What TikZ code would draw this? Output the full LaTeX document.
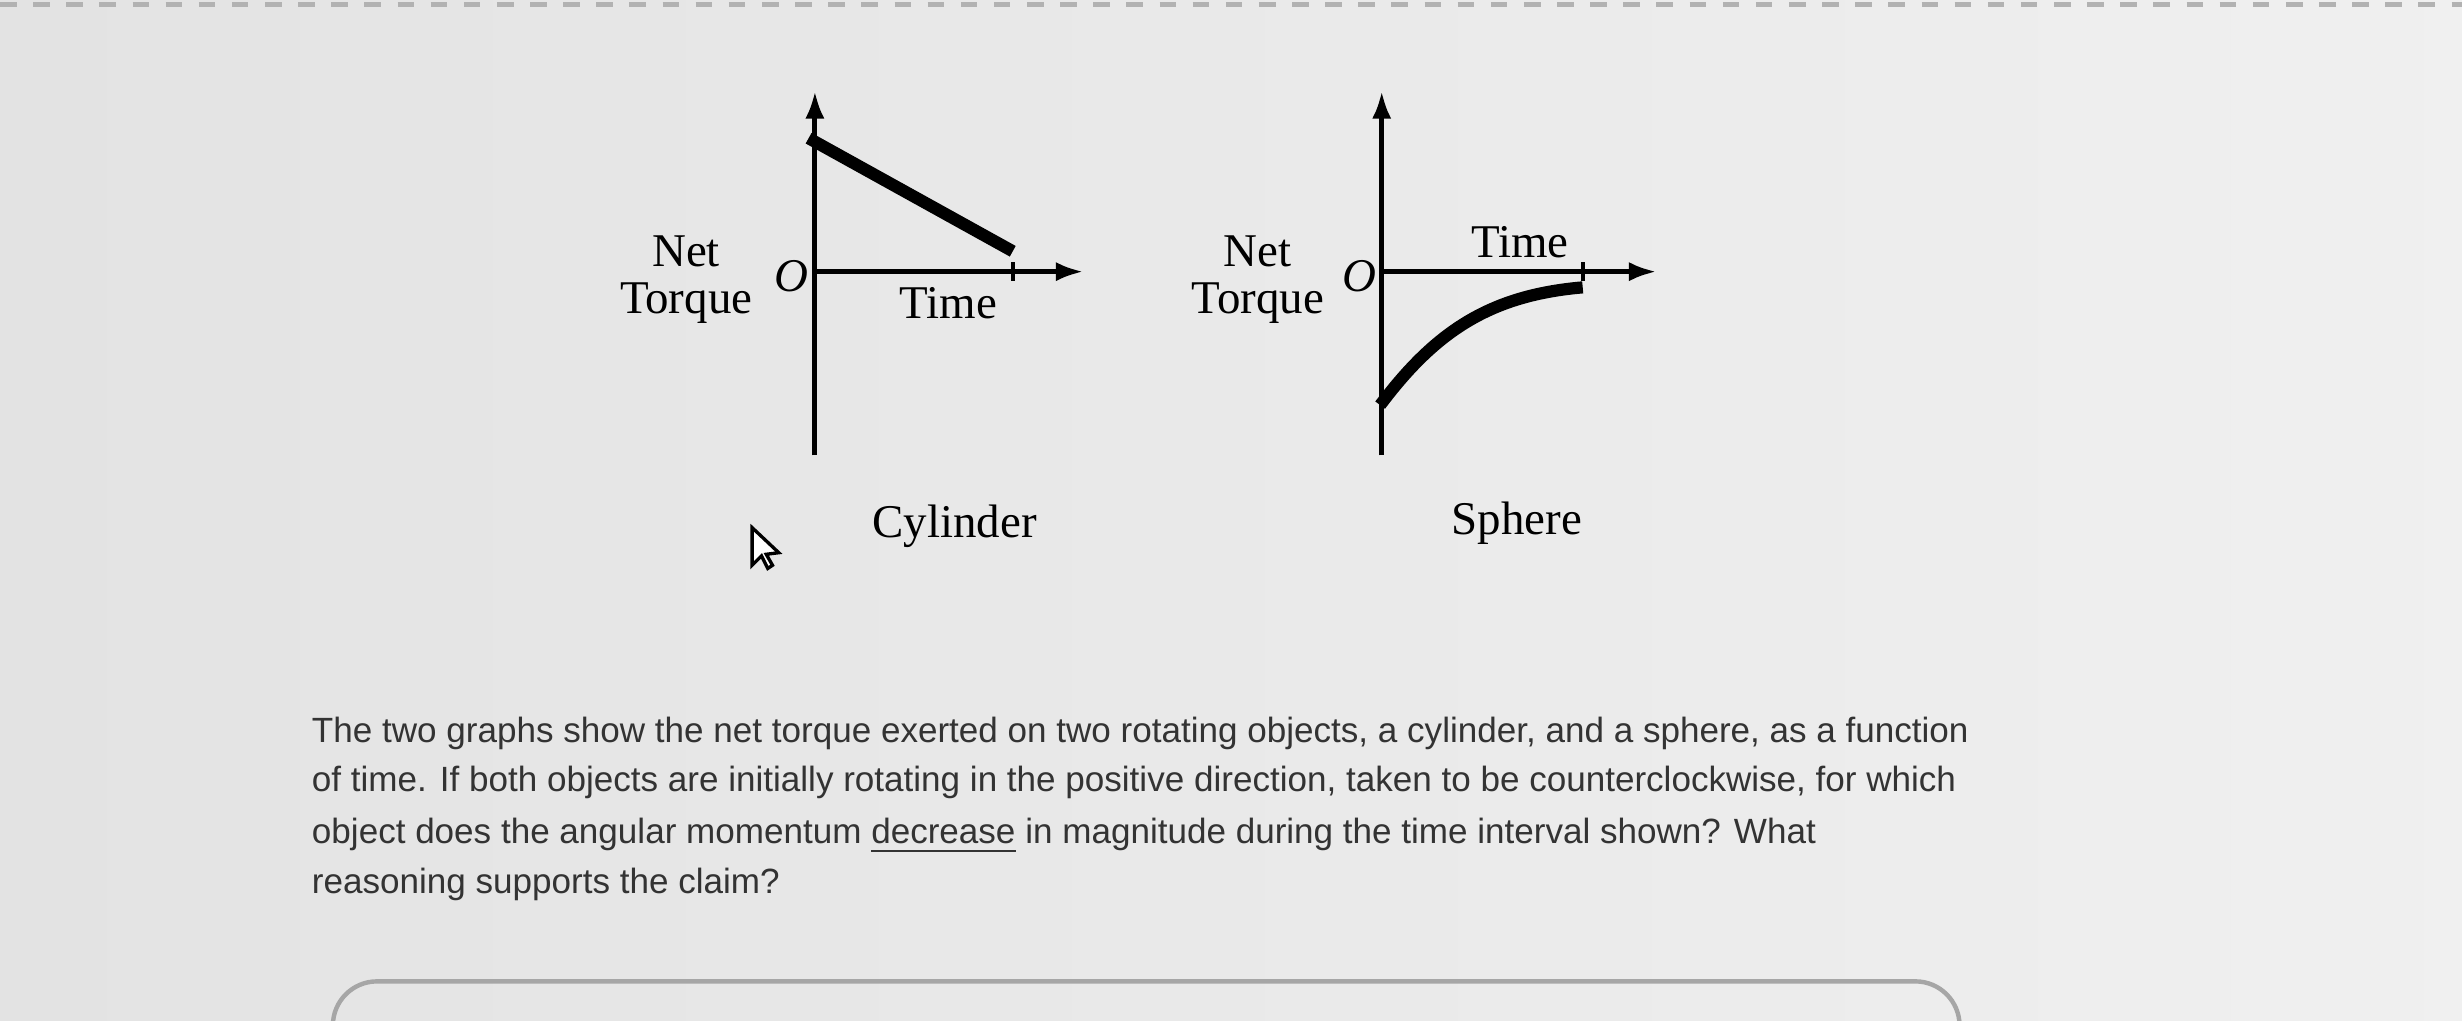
\documentclass[tikz,border=0pt]{standalone}
\usepackage{fontspec}
\setmainfont{Liberation Serif}
\newfontfamily\txtfont{Liberation Sans}
\usetikzlibrary{arrows.meta}
\begin{document}
\begin{tikzpicture}[x=0.01cm,y=-0.01cm,
 ax/.style={line width=0.9pt,-{Latex[length=5pt,width=3.5pt]}},
 crv/.style={line width=2.2pt},
 lab/.style={font=\fontsize{8.5}{9}\selectfont,inner sep=0pt},
 para/.style={font=\txtfont\fontsize{6.35}{8}\selectfont,color=black!80,inner sep=0pt,anchor=base west}]
\fill[left color=gray!22,right color=gray!12] (0,0) rectangle (1568,650);
\useasboundingbox (0,0) rectangle (1568,650);
\draw[dashed,gray!60,line width=1pt] (0,3) -- (1568,3);
% graph 1
\coordinate (a1b) at (519,290); \coordinate (a1t) at (519,58);
\coordinate (h1l) at (519,173); \coordinate (h1r) at (690,173);
\draw[ax] (a1b) -- (a1t);
\draw[ax] (h1l) -- (h1r);
\draw[line width=0.7pt] (645,167) -- (645,179);
\coordinate (c1s) at (515,88); \coordinate (c1e) at (645,160);
\draw[crv] (c1s) -- (c1e);
\node[lab] (n1) at (437,160) {Net};
\node[lab] (t1) at (437,193) {Torque};
\node[lab] (o1) at (504,176) {\itshape O};
\node[lab] (ti1) at (604,193) {Time};
\node[lab] (cy) at (608,335) {Cylinder};
% graph 2
\coordinate (a2b) at (880,290); \coordinate (a2t) at (880,58);
\coordinate (h2l) at (880,173); \coordinate (h2r) at (1055,173);
\draw[ax] (a2b) -- (a2t);
\draw[ax] (h2l) -- (h2r);
\draw[line width=0.7pt] (1008,167) -- (1008,179);
\coordinate (c2s) at (879,258); \coordinate (c2e) at (1008,183);
\draw[crv] (c2s) .. controls (915,210) and (950,188) .. (c2e);
\node[lab] (n2) at (801,160) {Net};
\node[lab] (t2) at (801,193) {Torque};
\node[lab] (o2) at (866,176) {\itshape O};
\node[lab] (ti2) at (968,154) {Time};
\node[lab] (sp) at (966,333) {Sphere};
% cursor
\draw[fill=white,line width=0.6pt] (479,336) -- (479,360) -- (485,354) -- (489,362) -- (492,360) -- (488,353) -- (496,352) -- cycle;
% paragraph
\node[para] (l1) at (198,473) {The two graphs show the net torque exerted on two rotating objects, a cylinder, and a sphere, as a function};
\node[para] (l2) at (198,504) {of time. If both objects are initially rotating in the positive direction, taken to be counterclockwise, for which};
\node[para] (l3) at (198,537) {object does the angular momentum \underline{decrease} in magnitude during the time interval shown? What};
\node[para] (l4) at (198,569) {reasoning supports the claim?};
\draw[gray!70,line width=0.8pt,rounded corners=8pt] (212,660) -- (212,625) -- (1248,625) -- (1248,660);
\end{tikzpicture}
\end{document}
